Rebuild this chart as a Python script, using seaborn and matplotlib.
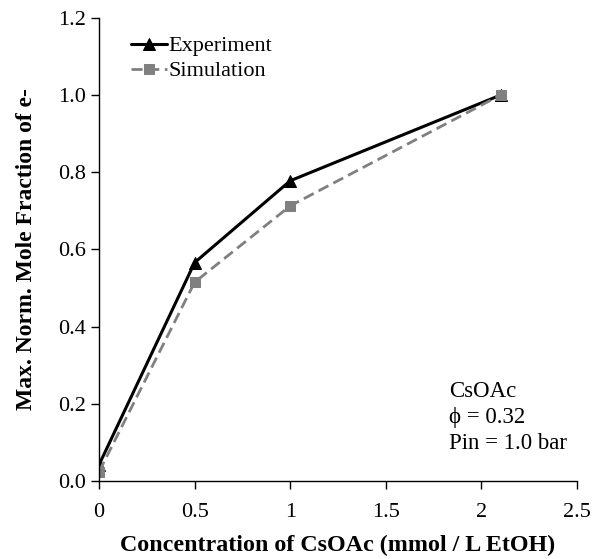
import matplotlib
matplotlib.use("Agg")
import matplotlib.pyplot as plt
import seaborn as sns
import pandas as pd

conc = [0, 0.5, 1.0, 2.1]
experiment = [0.042, 0.566, 0.778, 1.0]
simulation = [0.024, 0.515, 0.713, 1.0]

sns.set_style("ticks")
plt.rcParams['font.family'] = ['Liberation Serif', 'DejaVu Serif']
plt.rcParams['text.color'] = 'black'
plt.rcParams['axes.labelcolor'] = 'black'

fig = plt.figure(figsize=(6.02, 5.59), dpi=100)
ax = fig.add_axes([0.1645, 0.1395, 0.794, 0.8285])

df_e = pd.DataFrame({"x": conc, "y": experiment})
df_s = pd.DataFrame({"x": conc, "y": simulation})

sns.lineplot(data=df_e, x="x", y="y", ax=ax, color="black", lw=2.2,
             marker="^", markersize=8, markeredgecolor="black", label="Experiment")
sns.lineplot(data=df_s, x="x", y="y", ax=ax, color="#808080", lw=2.0,
             linestyle=(0, (4, 2)), marker="s", markersize=7.5,
             markeredgecolor="#808080", label="Simulation")

ax.set_xlim(0, 2.5)
ax.set_ylim(0, 1.2)
ax.set_xticks([0, 0.5, 1, 1.5, 2, 2.5])
ax.set_xticklabels(["0", "0.5", "1", "1.5", "2", "2.5"])
ax.set_yticks([0, 0.2, 0.4, 0.6, 0.8, 1.0, 1.2])
ax.set_yticklabels(["0.0", "0.2", "0.4", "0.6", "0.8", "1.0", "1.2"])
ax.tick_params(labelsize=16, length=6, width=1, direction="out", colors="black")
ax.tick_params(axis="x", pad=10)
ax.set_xlabel("Concentration of CsOAc (mmol / L EtOH)", fontsize=17.3, fontweight="bold", labelpad=9)
ax.set_ylabel("Max. Norm. Mole Fraction of e-", fontsize=17, fontweight="bold", labelpad=15)
sns.despine(ax=ax)
for s in ["left", "bottom"]:
    ax.spines[s].set_linewidth(1)
    ax.spines[s].set_color("black")

leg = ax.legend(loc="upper left", bbox_to_anchor=(0.04, 0.99), frameon=False,
                fontsize=16, handlelength=1.6, handletextpad=0.05,
                borderaxespad=0.2, labelspacing=0.2)

ax.text(0.733, 0.215, "CsOAc\n\u03d5 = 0.32\nPin = 1.0 bar", transform=ax.transAxes,
        fontsize=16.5, va="top", ha="left", linespacing=1.3)

fig.savefig("out.png", dpi=100)
